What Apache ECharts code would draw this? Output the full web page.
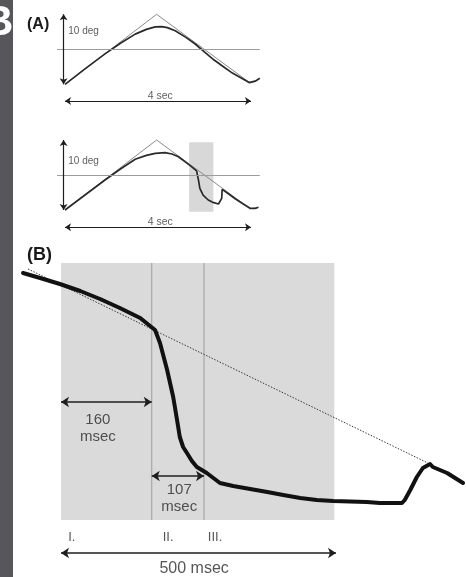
<!DOCTYPE html>
<html><head><meta charset="utf-8">
<script src="https://cdn.jsdelivr.net/npm/echarts/dist/echarts.min.js"></script>
<style>html,body{margin:0;padding:0;background:#fff}#c{width:466px;height:577px}</style>
</head><body><div id="c"></div>
<script>
// ---------- DATA ----------
// Panel A (top): time in sec, angle in deg
const a1Thin = [[0,0],[1.97,10],[3.98,0.2],[4.09,0.45]];
const a1Thick = [[0,0],[0.43,2.2],[0.86,4.34],[1.2,5.9],[1.51,7.17],[1.75,7.85],[1.94,8.2],[2.08,8.25],[2.2,8.1],[2.37,7.64],[2.6,6.7],[2.8,5.76],[3.01,4.57],[3.2,3.5],[3.37,2.69],[3.6,1.6],[3.8,0.85],[3.96,0.25],[4.09,0.45],[4.19,0.85]];
// Panel A (bottom)
const a2Thin = [[0,0],[1.97,10],[3.98,0.2],[4.09,0.25],[4.16,0.4]];
const a2Thick = [[0,0],[0.43,2.15],[0.86,4.29],[1.2,5.9],[1.51,7.24],[1.75,7.8],[1.94,8.1],[2.15,8.19],[2.3,8.0],[2.44,7.6],[2.6,6.8],[2.72,6.19],[2.83,5.6],[2.87,4.29],[2.9,3.1],[2.97,2.14],[3.08,1.43],[3.2,1.05],[3.3,0.86],[3.34,0.95],[3.37,1.67],[3.38,2.95],[3.5,2.4],[3.66,1.6],[3.8,1.0],[3.98,0.24],[4.09,0.24],[4.16,0.39]];
const aBaseline = [5.0, 4.9];          // deg, grey reference line in each A panel
const aAmplitude = 10;                  // deg
const aDuration = 4;                    // sec
const a2Window = [2.67, 3.19];          // sec, shaded window
const aLabels = ['10 deg', '4 sec'];
// Panel B: time in msec, position (arbitrary units)
const bThick = [[-69,247],[-38,242],[-2,236],[35,229],[71,221],[107,212],[144,202],[171,190],[180,177],[193,150],[204,123],[211,100],[216,83],[222,73],[229,67],[238,59],[247,53],[256,50],[265,47],[277,42],[289,37],[313,34],[344,31],[375,28],[404,25],[435,22],[465,20],[495,19],[556,18],[580,17],[620,17],[625,20],[635,30],[647,43],[658,52],[671,56],[676,53],[702,47],[731,37]];
const bThin = [[-60,251],[667,57]];
const bPhases = [0, 165, 260, 497];     // msec, phase boundaries
const bPhaseNames = ['I.', 'II.', 'III.'];
const bDurations = ['160\nmsec', '107\nmsec', '500 msec'];

// ---------- LAYOUT ----------
const FONT = '"Liberation Sans", Arial, sans-serif';
const AX0 = 65, APX = 46.5, AYPX = 7.0;
const aZero = [84.3, 210];
const aX = [-0.25, 4.25], aY = [-3, 11.5];
const bX = [-80, 735], bY = [-57, 257];

const chart = echarts.init(document.getElementById('c'), null, {renderer: 'canvas'});

const grids = [0,1].map(i => ({
  left: AX0 + aX[0]*APX, width: (aX[1]-aX[0])*APX,
  top: aZero[i] - aY[1]*AYPX, height: (aY[1]-aY[0])*AYPX
}));
grids.push({left: 17, top: 263, width: 448.25, height: 314});

const xAxes = [0,1].map(i => ({gridIndex:i, type:'value', min:aX[0], max:aX[1], show:false}));
xAxes.push({gridIndex:2, type:'value', min:bX[0], max:bX[1], show:false});
const yAxes = [0,1].map(i => ({gridIndex:i, type:'value', min:aY[0], max:aY[1], show:false}));
yAxes.push({gridIndex:2, type:'value', min:bY[0], max:bY[1], show:false});

const arrowStyle = {color:'#1e1e1e', width:1.2, type:'solid'};
function ml(lines, style, sym, size) {
  return {silent:true, symbol: sym, symbolSize: size, label:{show:false}, lineStyle: style,
    data: lines.map(l => [{coord:l[0]}, {coord:l[1]}]), animation:false};
}

const series = [];
// Panel A
const aSets = [[a1Thin, a1Thick, 7.6, -1.74, -2.39], [a2Thin, a2Thick, 7.0, -1.79, -2.47]];
aSets.forEach((s, i) => {
  const [thin, thick, degLabY, secLabY, secArrY] = s;
  const thinSeries = {
    type:'line', xAxisIndex:i, yAxisIndex:i, data: thin, symbol:'none', z:3,
    lineStyle:{color:'#8a8a8a', width:1}, animation:false,
    markLine: {
      silent:true, symbol:['none','none'], label:{show:false}, animation:false,
      lineStyle:{color:'#9c9c9c', width:1, type:'solid'},
      data:[[{coord:[-0.17, aBaseline[i]]},{coord:[4.19, aBaseline[i]]}]]
    }
  };
  if (i === 1) {
    thinSeries.markArea = {silent:true, itemStyle:{color:'#d8d8d8'}, animation:false,
      data:[[{coord:[a2Window[0], -0.24]}, {coord:[a2Window[1], 9.67]}]]};
  }
  series.push(thinSeries);
  series.push({type:'line', xAxisIndex:i, yAxisIndex:i, data: thick, symbol:'none', z:4,
    lineStyle:{color:'#2a2a2a', width:1.7}, animation:false,
    markLine: ml([[[-0.03,0],[-0.03,aAmplitude]], [[0,secArrY],[aDuration,secArrY]]], arrowStyle, ['arrow','arrow'], 6)});
  series.push({type:'scatter', xAxisIndex:i, yAxisIndex:i, symbolSize:0, z:10, silent:true, animation:false,
    label:{show:true, position:'inside', formatter:'{b}', color:'#333', fontFamily:FONT, fontSize:10},
    data:[
      {name:aLabels[0], value:[0.07, degLabY], label:{align:'left', verticalAlign:'middle'}},
      {name:aLabels[1], value:[2.05, secLabY], label:{align:'center', verticalAlign:'middle', fontSize:10.5}}
    ]});
});

// Panel B
series.push({type:'line', xAxisIndex:2, yAxisIndex:2, data:[], z:1, animation:false,
  markArea:{silent:true, itemStyle:{color:'#dadada'}, animation:false,
    data:[[{coord:[bPhases[0], 0]}, {coord:[bPhases[3], bY[1]]}]]}});
bPhases.slice(1,3).forEach(p => {
  series.push({type:'line', xAxisIndex:2, yAxisIndex:2, data:[[p,0],[p,bY[1]]], symbol:'none', z:2,
    lineStyle:{color:'#9e9e9e', width:1}, animation:false});
});
series.push({type:'line', xAxisIndex:2, yAxisIndex:2, data:bThin, symbol:'none', z:3,
  lineStyle:{color:'#3a3a3a', width:1, type:[1.5,1.5]}, animation:false,
  markLine: ml([[[bPhases[0],118],[bPhases[1],118]], [[bPhases[1],44],[bPhases[2],44]], [[0,-33],[500,-33]]],
    {color:'#1e1e1e', width:1.5, type:'solid'}, ['arrow','arrow'], 8)});
series.push({type:'line', xAxisIndex:2, yAxisIndex:2, data:bThick, symbol:'none', z:4,
  lineStyle:{color:'#111', width:4, cap:'round', join:'round'}, animation:false});
series.push({type:'scatter', xAxisIndex:2, yAxisIndex:2, symbolSize:0, z:10, silent:true, animation:false,
  label:{show:true, position:'inside', formatter:'{b}', color:'#2a2a2a', fontFamily:FONT, fontSize:15, lineHeight:17},
  data:[
    {name:bDurations[0], value:[67, 92], label:{align:'center', verticalAlign:'middle'}},
    {name:bDurations[1], value:[215, 22], label:{align:'center', verticalAlign:'middle'}},
    {name:bDurations[2], value:[242, -49], label:{align:'center', verticalAlign:'middle', fontSize:16}},
    {name:bPhaseNames[0], value:[13, -17], label:{align:'left', verticalAlign:'middle', fontSize:13}},
    {name:bPhaseNames[1], value:[185, -17], label:{align:'left', verticalAlign:'middle', fontSize:13}},
    {name:bPhaseNames[2], value:[267, -17], label:{align:'left', verticalAlign:'middle', fontSize:13}}
  ]});

chart.setOption({
  animation:false,
  backgroundColor:'#ffffff',
  grid: grids, xAxis: xAxes, yAxis: yAxes, series: series,
  graphic: [
    {type:'rect', left:0, top:0, shape:{x:0,y:0,width:13,height:577}, style:{fill:'#57565b'}, z:0},
    {type:'text', x:-17, y:23, style:{text:'B', fill:'#ffffff', font:'bold 42px ' + FONT, textVerticalAlign:'middle', textAlign:'left'}, z:1},
    {type:'text', x:27, y:25, style:{text:'(A)', fill:'#1a1a1a', font:'bold 16px ' + FONT, textVerticalAlign:'middle', textAlign:'left'}},
    {type:'text', x:27, y:255, style:{text:'(B)', fill:'#1a1a1a', font:'bold 18px ' + FONT, textVerticalAlign:'middle', textAlign:'left'}}
  ]
});
</script></body></html>
